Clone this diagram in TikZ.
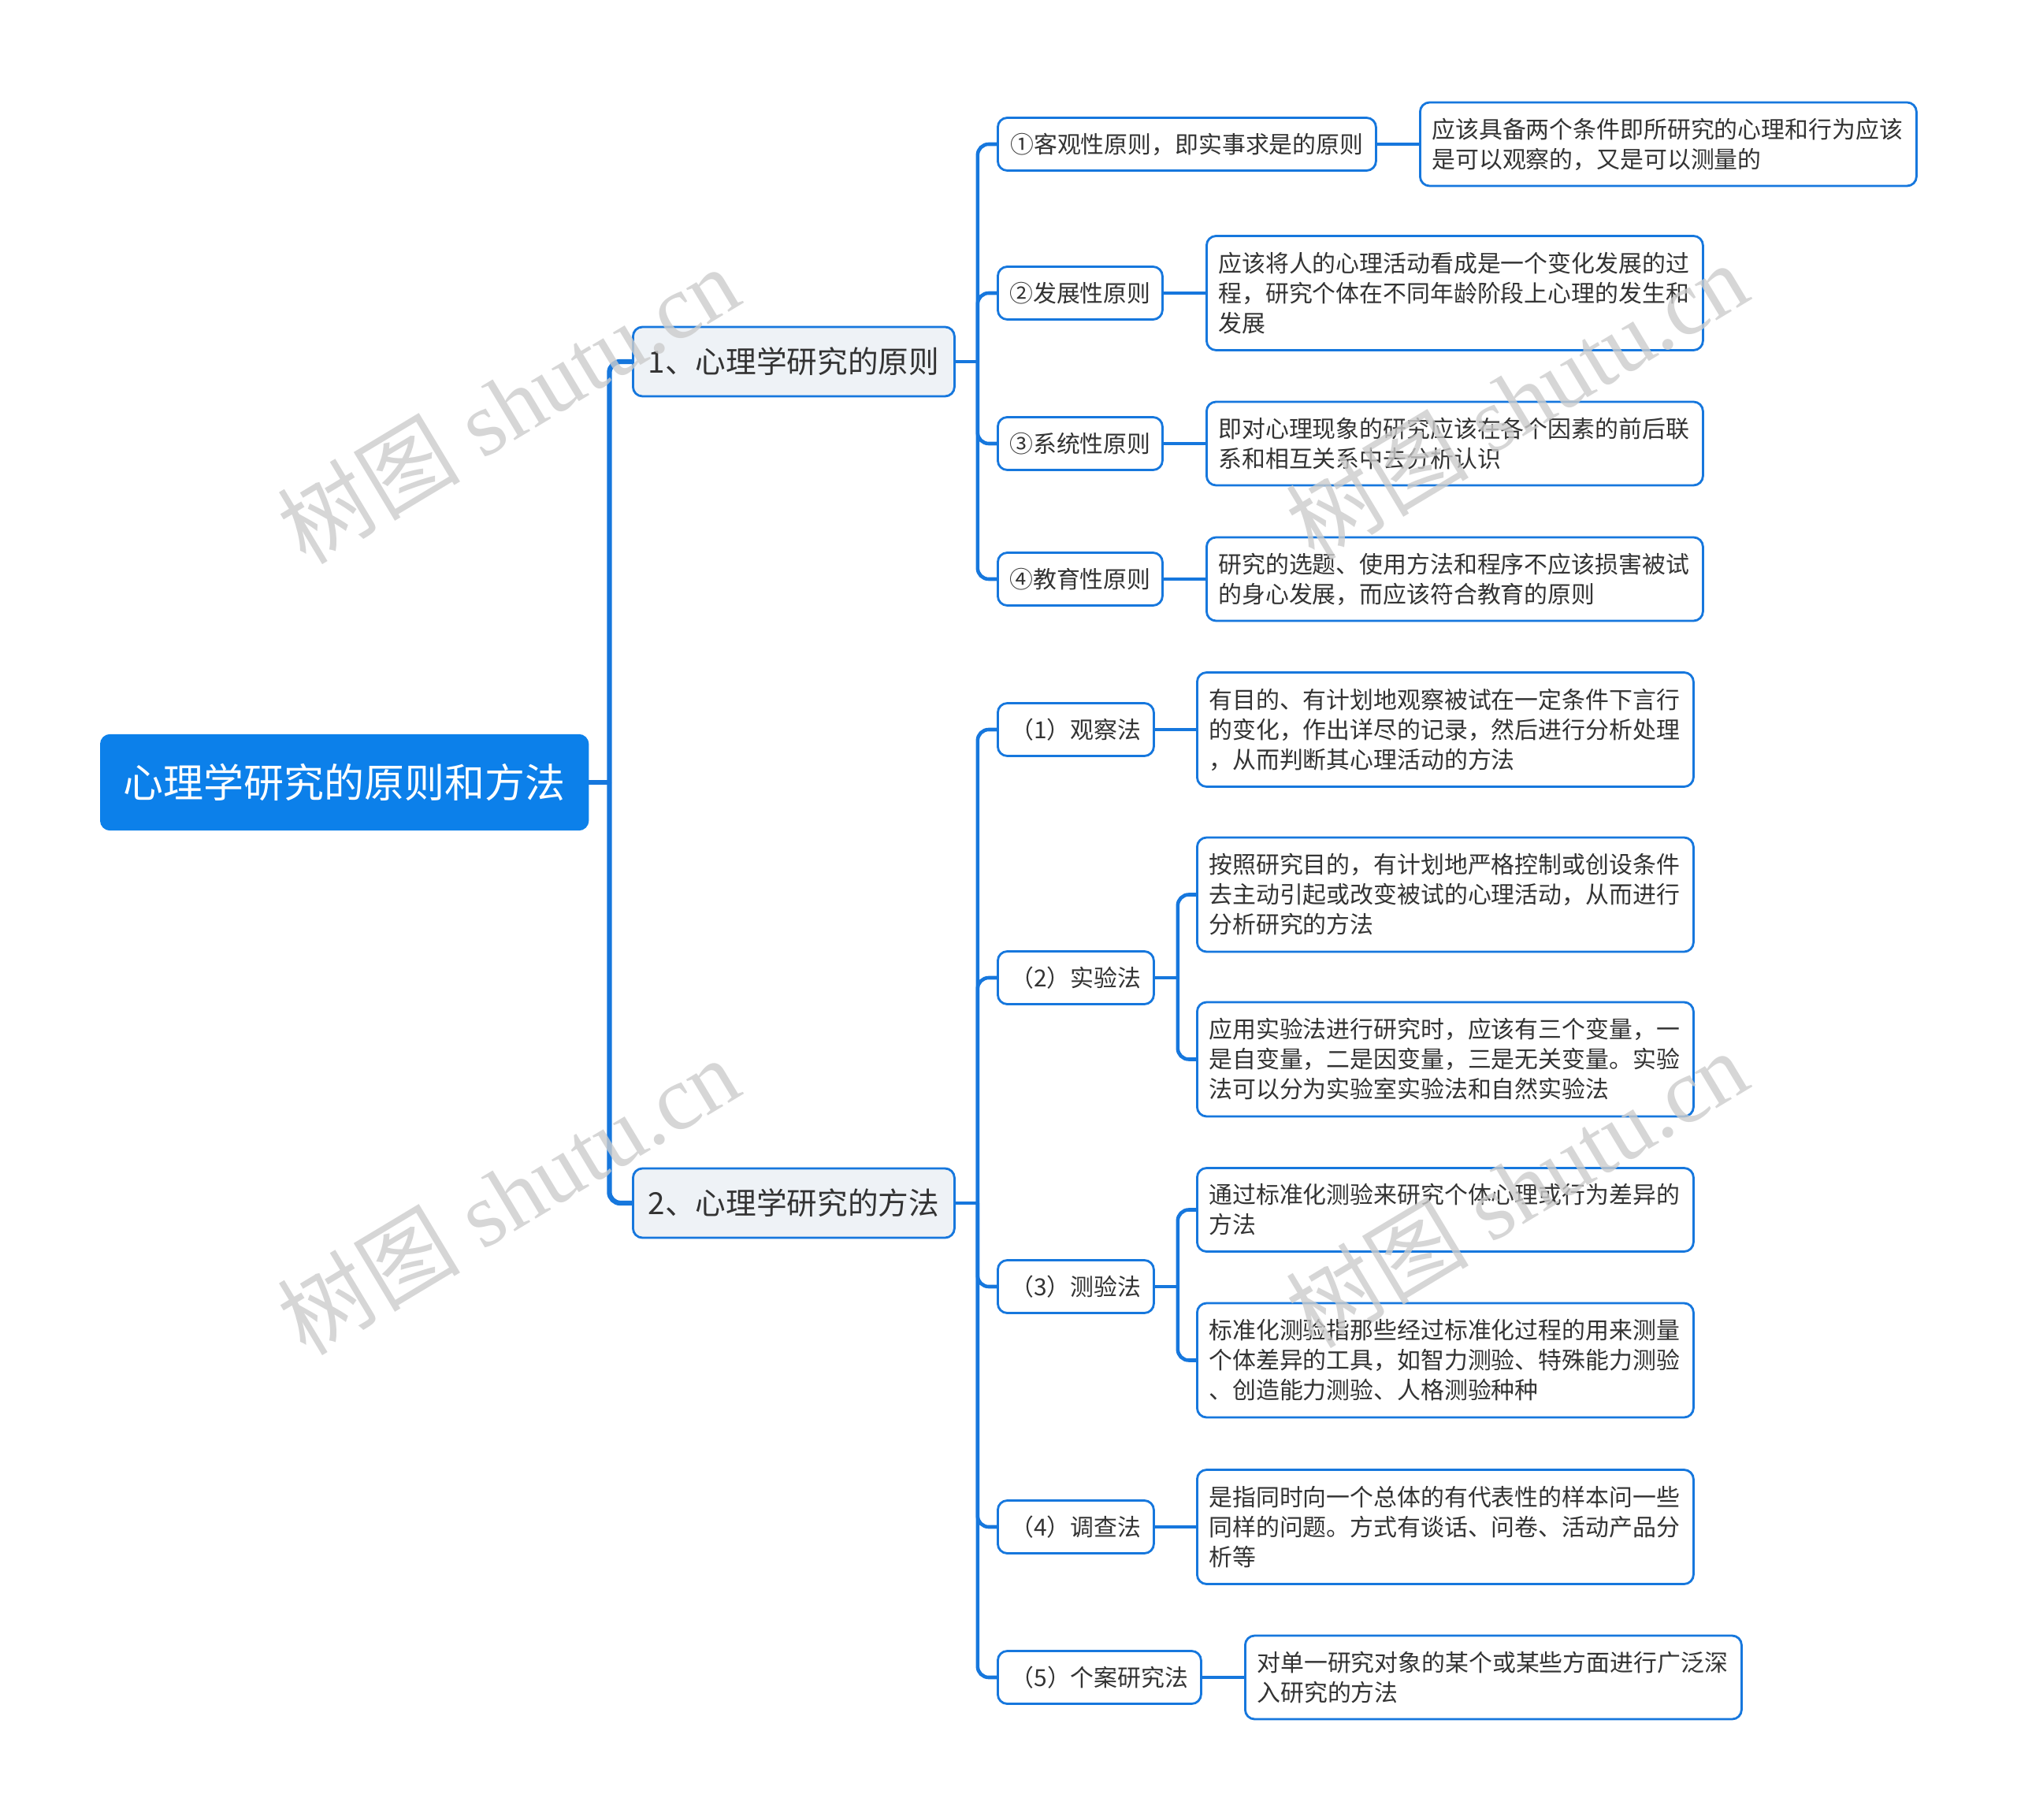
\documentclass[tikz,border=0pt]{standalone}
\usepackage{fontspec}
\newfontfamily\cjk{Noto Sans CJK SC}
\newfontfamily\wmserif{Liberation Serif}
\usetikzlibrary{positioning}
\definecolor{linkblue}{HTML}{1677DD}
\definecolor{rootblue}{HTML}{0C80EA}
\definecolor{topicfill}{HTML}{EEF2F6}
\definecolor{inkgray}{HTML}{333333}

\begin{document}
\begin{tikzpicture}[
  rootbox/.style={draw=rootblue, fill=rootblue, rounded corners=0.12cm, text=white,
    minimum width=6.19cm, minimum height=1.21cm, font=\cjk\fontsize{14.5pt}{17pt}\selectfont},
  topicbox/.style={draw=linkblue, fill=topicfill, line width=0.8pt, rounded corners=0.12cm,
    text=inkgray, minimum width=4.08cm, minimum height=0.88cm, font=\cjk\fontsize{11pt}{13pt}\selectfont},
  subbox/.style={draw=linkblue, fill=white, line width=0.8pt, rounded corners=0.12cm,
    text=inkgray, minimum height=0.67cm, inner xsep=0.1cm, font=\cjk\fontsize{8.5pt}{10.8pt}\selectfont},
  notebox/.style={draw=linkblue, fill=white, line width=0.8pt, rounded corners=0.12cm,
    text=inkgray, text width=6.0cm, align=left, inner xsep=0.15cm, minimum width=6.3cm,
    anchor=west, font=\cjk\fontsize{8.5pt}{10.8pt}\selectfont},
  note2/.style={notebox, minimum height=1.06cm},
  note3/.style={notebox, minimum height=1.45cm},
  trunk/.style={draw=linkblue, line width=1.8pt, rounded corners=0.14cm},
  conn/.style={draw=linkblue, line width=1.3pt, rounded corners=0.14cm},
  wmark/.style={text=black!20, opacity=0.8, rotate=31, font=\wmserif\fontsize{33pt}{33pt}\selectfont}
]
  \useasboundingbox (0,0) rectangle (25.6,-23.1);

  \node[rootbox, anchor=west] (root) at (1.27,-9.93) {心理学研究的原则和方法};
  \node[topicbox, anchor=west] (pri) at (8.02,-4.59) {1、心理学研究的原则};
  \node[topicbox, anchor=west] (met) at (8.02,-15.27) {2、心理学研究的方法};

  % principles
  \node[subbox, minimum width=4.80cm, anchor=west] (pri1) at (12.65,-1.83) {①客观性原则，即实事求是的原则};
  \node[subbox, minimum width=2.09cm, anchor=west] (pri2) at (12.65,-3.72) {②发展性原则};
  \node[subbox, minimum width=2.09cm, anchor=west] (pri3) at (12.65,-5.63) {③系统性原则};
  \node[subbox, minimum width=2.09cm, anchor=west] (pri4) at (12.65,-7.35) {④教育性原则};

  \node[note2] (pri1n) at (18.01,-1.83) {应该具备两个条件即所研究的心理和行为应该\\是可以观察的，又是可以测量的};
  \node[note3] (pri2n) at (15.30,-3.72) {应该将人的心理活动看成是一个变化发展的过\\程，研究个体在不同年龄阶段上心理的发生和\\发展};
  \node[note2] (pri3n) at (15.30,-5.63) {即对心理现象的研究应该在各个因素的前后联\\系和相互关系中去分析认识};
  \node[note2] (pri4n) at (15.30,-7.35) {研究的选题、使用方法和程序不应该损害被试\\的身心发展，而应该符合教育的原则};

  % methods
  \node[subbox, minimum width=1.98cm, anchor=west] (met1) at (12.65,-9.26) {（1）观察法};
  \node[subbox, minimum width=1.98cm, anchor=west] (met2) at (12.65,-12.41) {（2）实验法};
  \node[subbox, minimum width=1.98cm, anchor=west] (met3) at (12.65,-16.33) {（3）测验法};
  \node[subbox, minimum width=1.98cm, anchor=west] (met4) at (12.65,-19.38) {（4）调查法};
  \node[subbox, minimum width=2.58cm, anchor=west] (met5) at (12.65,-21.29) {（5）个案研究法};

  \node[note3] (met1n) at (15.18,-9.26) {有目的、有计划地观察被试在一定条件下言行\\的变化，作出详尽的记录，然后进行分析处理\\，从而判断其心理活动的方法};
  \node[note3] (met2a) at (15.18,-11.355) {按照研究目的，有计划地严格控制或创设条件\\去主动引起或改变被试的心理活动，从而进行\\分析研究的方法};
  \node[note3] (met2b) at (15.18,-13.445) {应用实验法进行研究时，应该有三个变量，一\\是自变量，二是因变量，三是无关变量。实验\\法可以分为实验室实验法和自然实验法};
  \node[note2] (met3a) at (15.18,-15.355) {通过标准化测验来研究个体心理或行为差异的\\方法};
  \node[note3] (met3b) at (15.18,-17.265) {标准化测验指那些经过标准化过程的用来测量\\个体差异的工具，如智力测验、特殊能力测验\\、创造能力测验、人格测验种种};
  \node[note3] (met4n) at (15.18,-19.38) {是指同时向一个总体的有代表性的样本问一些\\同样的问题。方式有谈话、问卷、活动产品分\\析等};
  \node[note2] (met5n) at (15.79,-21.29) {对单一研究对象的某个或某些方面进行广泛深\\入研究的方法};

  % connectors
  \coordinate[right=0.26cm of root] (rootj);
  \draw[trunk] (root.east) -- (rootj);
  \draw[trunk] (rootj) |- (pri.west);
  \draw[trunk] (rootj) |- (met.west);

  \coordinate[right=0.28cm of pri] (prij);
  \draw[conn] (pri.east) -- (prij);
  \foreach \n in {pri1,pri2,pri3,pri4}
    \draw[conn] (prij) |- (\n.west);

  \coordinate[right=0.28cm of met] (metj);
  \draw[conn] (met.east) -- (metj);
  \foreach \n in {met1,met2,met3,met4,met5}
    \draw[conn] (metj) |- (\n.west);

  \foreach \a/\b in {pri1/pri1n, pri2/pri2n, pri3/pri3n, pri4/pri4n, met1/met1n, met4/met4n, met5/met5n}
    \draw[conn] (\a.east) -- (\b.west);

  \coordinate[right=0.29cm of met2] (met2j);
  \draw[conn] (met2.east) -- (met2j);
  \draw[conn] (met2j) |- (met2a.west);
  \draw[conn] (met2j) |- (met2b.west);

  \coordinate[right=0.29cm of met3] (met3j);
  \draw[conn] (met3.east) -- (met3j);
  \draw[conn] (met3j) |- (met3a.west);
  \draw[conn] (met3j) |- (met3b.west);

  % watermark
  \node[wmark] (wm1) at (6.45,-5.13) {{\cjk 树图} shutu.cn};
  \node[wmark] (wm2) at (19.25,-5.08) {{\cjk 树图} shutu.cn};
  \node[wmark] (wm3) at (6.45,-15.17) {{\cjk 树图} shutu.cn};
  \node[wmark] (wm4) at (19.25,-15.08) {{\cjk 树图} shutu.cn};
\end{tikzpicture}
\end{document}
